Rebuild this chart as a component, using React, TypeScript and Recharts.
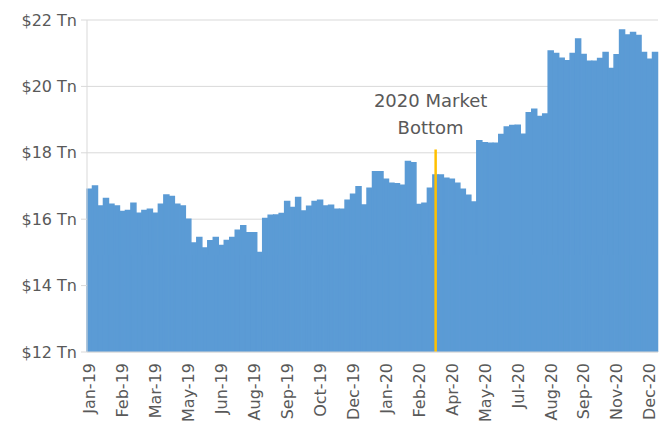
import React from "react";
import { BarChart, Bar, XAxis, YAxis, CartesianGrid, ReferenceLine } from "recharts";

const WEEKS: string[] = [
  "2019-01-04","2019-01-11","2019-01-18","2019-01-25","2019-02-01","2019-02-08","2019-02-15","2019-02-22",
  "2019-03-01","2019-03-08","2019-03-15","2019-03-22","2019-03-29","2019-04-05","2019-04-12","2019-04-19",
  "2019-04-26","2019-05-03","2019-05-10","2019-05-17","2019-05-24","2019-05-31","2019-06-07","2019-06-14",
  "2019-06-21","2019-06-28","2019-07-05","2019-07-12","2019-07-19","2019-07-26","2019-08-02","2019-08-09",
  "2019-08-16","2019-08-23","2019-08-30","2019-09-06","2019-09-13","2019-09-20","2019-09-27","2019-10-04",
  "2019-10-11","2019-10-18","2019-10-25","2019-11-01","2019-11-08","2019-11-15","2019-11-22","2019-11-29",
  "2019-12-06","2019-12-13","2019-12-20","2019-12-27",
  "2020-01-03","2020-01-10","2020-01-17","2020-01-24","2020-01-31","2020-02-07","2020-02-14","2020-02-21",
  "2020-02-28","2020-03-06","2020-03-13","2020-03-20","2020-03-27","2020-04-03","2020-04-10","2020-04-17",
  "2020-04-24","2020-05-01","2020-05-08","2020-05-15","2020-05-22","2020-05-29","2020-06-05","2020-06-12",
  "2020-06-19","2020-06-26","2020-07-03","2020-07-10","2020-07-17","2020-07-24","2020-07-31","2020-08-07",
  "2020-08-14","2020-08-21","2020-08-28","2020-09-04","2020-09-11","2020-09-18","2020-09-25","2020-10-02",
  "2020-10-09","2020-10-16","2020-10-23","2020-10-30","2020-11-06","2020-11-13","2020-11-20","2020-11-27",
  "2020-12-04","2020-12-11","2020-12-18","2020-12-25",
];

const VALUES: number[] = [
  16.90, 17.00, 16.40, 16.62, 16.45, 16.40, 16.23, 16.26, 16.48, 16.18,
  16.26, 16.30, 16.18, 16.45, 16.73, 16.68, 16.45, 16.40, 16.00, 15.28,
  15.45, 15.13, 15.35, 15.45, 15.21, 15.36, 15.45, 15.67, 15.80, 15.59,
  15.59, 15.00, 16.02, 16.12, 16.13, 16.17, 16.53, 16.35, 16.65, 16.25,
  16.39, 16.53, 16.57, 16.40, 16.42, 16.30, 16.30, 16.57, 16.75, 16.98,
  16.43, 16.93, 17.43, 17.43, 17.20, 17.08, 17.07, 17.02, 17.74, 17.70,
  16.44, 16.48, 16.93, 17.33, 17.33, 17.23, 17.20, 17.08, 16.90, 16.72,
  16.52, 18.36, 18.30, 18.29, 18.29, 18.55, 18.78, 18.82, 18.83, 18.56,
  19.21, 19.31, 19.09, 19.17, 21.07, 20.99, 20.85, 20.77, 20.99, 21.43,
  20.96, 20.76, 20.76, 20.84, 21.02, 20.54, 20.95, 21.70, 21.55, 21.62,
  21.53, 21.02, 20.82, 21.02,
];

const Y_TICKS: number[] = [12, 14, 16, 18, 20, 22];
const MONTHS: string[] = ["Jan","Feb","Mar","Apr","May","Jun","Jul","Aug","Sep","Oct","Nov","Dec"];
const BOTTOM_WEEK = "2020-03-20";
const BOTTOM_LINE_TOP = 18.1;
const ANNOTATION_LINES: string[] = ["2020 Market", "Bottom"];

const data = WEEKS.map((w, i) => ({ week: w, value: VALUES[i] }));

const FONT = "'DejaVu Sans', sans-serif";
const TEXT = "#595959";
const BLUE = "#5B9BD5";

const fmtWeek = (v: string) => {
  const [y, m] = v.split("-");
  return `${MONTHS[Number(m) - 1]}-${y.slice(2)}`;
};

const XTick = (props: any) => {
  const { x, y, payload } = props;
  const ty = y + 3;
  return (
    <text
      x={x}
      y={ty}
      transform={`rotate(-90 ${x} ${ty})`}
      textAnchor="end"
      dy="0.35em"
      fill={TEXT}
      fontSize={16}
      fontFamily={FONT}
    >
      {fmtWeek(payload.value)}
    </text>
  );
};

const AnnotationLabel = (props: any) => {
  const vb = props.viewBox || {};
  const x = (vb.x ?? 0) - 5;
  const y = vb.y ?? 0;
  return (
    <g>
      <text x={x} y={y - 42} textAnchor="middle" fill={TEXT} fontSize={18} fontFamily={FONT}>
        {ANNOTATION_LINES[0]}
      </text>
      <text x={x} y={y - 15} textAnchor="middle" fill={TEXT} fontSize={18} fontFamily={FONT}>
        {ANNOTATION_LINES[1]}
      </text>
    </g>
  );
};

export default function App() {
  return (
    <div style={{ position: "absolute", left: 0, top: 0, width: 669, height: 425, background: "#fff" }}>
      <BarChart
        width={669}
        height={425}
        data={data}
        margin={{ top: 20, right: 11, bottom: 0, left: 0 }}
        barCategoryGap={0}
        barGap={0}
      >
        <CartesianGrid vertical={false} stroke="#d9d9d9" />
        <XAxis
          dataKey="week"
          interval={5}
          height={73}
          tick={<XTick />}
          tickLine={false}
          axisLine={{ stroke: "#d9d9d9" }}
        />
        <YAxis
          domain={[12, 22]}
          ticks={Y_TICKS}
          width={87}
          tickFormatter={(v: number) => `$${v} Tn`}
          tick={{ fill: TEXT, fontSize: 16, fontFamily: FONT }}
          tickSize={6}
          tickMargin={4}
          tickLine={{ stroke: "#d9d9d9" }}
          axisLine={{ stroke: "#d9d9d9" }}
          allowDataOverflow
        />
        <Bar dataKey="value" fill={BLUE} stroke={BLUE} strokeWidth={1.5} isAnimationActive={false} />
        <ReferenceLine
          segment={[
            { x: BOTTOM_WEEK, y: 12 },
            { x: BOTTOM_WEEK, y: BOTTOM_LINE_TOP },
          ]}
          stroke="#FFC000"
          strokeWidth={2.5}
          ifOverflow="visible"
          label={<AnnotationLabel />}
        />
      </BarChart>
    </div>
  );
}
